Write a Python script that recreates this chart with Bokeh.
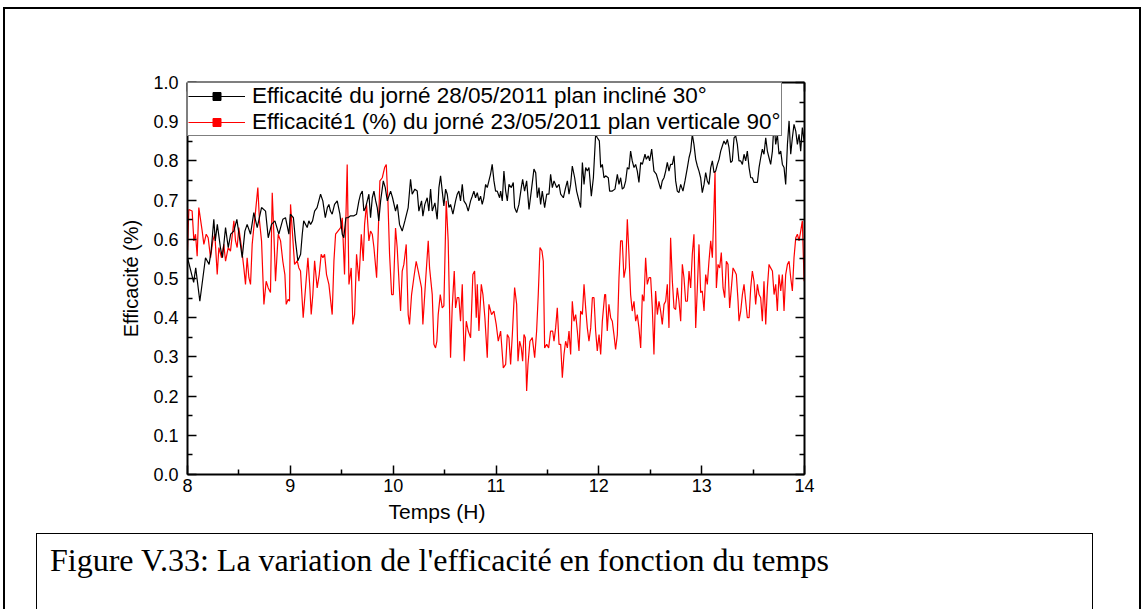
from bokeh.plotting import figure
from bokeh.layouts import column
from bokeh.models import (LinearAxis, Legend, LegendItem, ColumnDataSource, FixedTicker,
                          NumeralTickFormatter, Div)
from bokeh.embed import file_html
from bokeh.resources import INLINE

# ---------------- data ----------------
t_incline = [
    8.000, 8.060, 8.080, 8.120, 8.175, 8.210, 8.230, 8.256, 8.270, 8.290, 8.320, 8.340, 8.370, 8.396,
    8.420, 8.450, 8.480, 8.510, 8.532, 8.558, 8.580, 8.613, 8.645, 8.678, 8.720, 8.759, 8.785, 8.817,
    8.850, 8.888, 8.927, 8.953, 8.986,
    9.000, 9.030, 9.050, 9.073, 9.100, 9.116, 9.130, 9.164, 9.180, 9.197, 9.216, 9.236, 9.260, 9.294,
    9.316, 9.340, 9.360, 9.375, 9.390, 9.407, 9.430, 9.456, 9.482, 9.505, 9.520, 9.540, 9.560, 9.586,
    9.618, 9.644, 9.667, 9.683, 9.700, 9.715, 9.732, 9.764, 9.780, 9.797, 9.813, 9.830, 9.845, 9.860,
    9.878, 9.904, 9.923, 9.943, 9.975, 9.994,
    10.023, 10.040, 10.062, 10.088, 10.114, 10.146, 10.169, 10.185, 10.211, 10.234, 10.250, 10.276,
    10.289, 10.308, 10.331, 10.347, 10.364, 10.380, 10.406, 10.428, 10.445, 10.461, 10.477, 10.493,
    10.510, 10.526, 10.542, 10.558, 10.581, 10.607, 10.623, 10.639, 10.655, 10.672, 10.688, 10.710,
    10.730, 10.753, 10.769, 10.785, 10.801, 10.818, 10.834, 10.850, 10.866, 10.882, 10.899, 10.915,
    10.931, 10.947, 10.963, 10.980, 10.996, 11.012, 11.035,
    11.045, 11.061, 11.077, 11.094, 11.110, 11.126, 11.149, 11.168, 11.181, 11.201, 11.223, 11.246,
    11.259, 11.278, 11.298, 11.321, 11.343, 11.369, 11.386, 11.402, 11.418, 11.434, 11.450, 11.473,
    11.493, 11.515, 11.531, 11.548, 11.564, 11.590, 11.613, 11.629, 11.655, 11.677, 11.694, 11.710,
    11.726, 11.742, 11.765, 11.784, 11.807, 11.823, 11.840, 11.856, 11.872, 11.888, 11.904, 11.927,
    11.947, 11.969, 11.985, 12.005, 12.018, 12.034, 12.050,
    12.066, 12.092, 12.105, 12.131, 12.157, 12.180, 12.196, 12.212, 12.228, 12.244, 12.261, 12.277,
    12.293, 12.309, 12.325, 12.342, 12.358, 12.374, 12.390, 12.407, 12.423, 12.449, 12.462, 12.481,
    12.494, 12.514, 12.536, 12.559, 12.578, 12.601, 12.617, 12.634, 12.650, 12.666, 12.682, 12.698,
    12.715, 12.731, 12.747, 12.763, 12.779, 12.796, 12.818, 12.838, 12.861, 12.877, 12.893, 12.909,
    12.925, 12.942, 12.958, 12.974, 12.990, 13.006, 13.023,
    13.039, 13.055, 13.071, 13.088, 13.104, 13.120, 13.136, 13.153, 13.169, 13.185, 13.201, 13.217,
    13.234, 13.250, 13.266, 13.282, 13.298, 13.315, 13.331, 13.347, 13.363, 13.380, 13.396, 13.412,
    13.428, 13.444, 13.461, 13.477, 13.493, 13.509, 13.525, 13.542, 13.558, 13.574, 13.590, 13.606,
    13.623, 13.639, 13.655, 13.671, 13.688, 13.704, 13.720, 13.736, 13.752, 13.769, 13.785, 13.801,
    13.817, 13.834, 13.850, 13.866, 13.882, 13.898, 13.915, 13.931, 13.947, 13.963, 13.979, 13.996,
]
eff_incline = [
    0.553, 0.490, 0.527, 0.442, 0.553, 0.536, 0.570, 0.651, 0.596, 0.638, 0.579, 0.553, 0.630, 0.579,
    0.613, 0.621, 0.651, 0.596, 0.553, 0.621, 0.638, 0.613, 0.668, 0.630, 0.681, 0.672, 0.604, 0.638,
    0.647, 0.613, 0.651, 0.655, 0.613,
    0.664, 0.655, 0.596, 0.545, 0.562, 0.613, 0.647, 0.630, 0.647, 0.638, 0.647, 0.672, 0.681, 0.715,
    0.698, 0.655, 0.681, 0.689, 0.672, 0.664, 0.689, 0.698, 0.664, 0.613, 0.604, 0.655, 0.655, 0.660,
    0.660, 0.664, 0.698, 0.715, 0.723, 0.672, 0.681, 0.715, 0.655, 0.706, 0.723, 0.698, 0.681, 0.647,
    0.698, 0.749, 0.732, 0.698, 0.723, 0.706,
    0.672, 0.689, 0.638, 0.621, 0.647, 0.681, 0.753, 0.715, 0.728, 0.723, 0.672, 0.698,
    0.659, 0.689, 0.706, 0.672, 0.728, 0.672, 0.693, 0.651, 0.732, 0.762, 0.723, 0.685,
    0.728, 0.715, 0.681, 0.689, 0.664, 0.698, 0.715, 0.723, 0.698, 0.740, 0.698, 0.689,
    0.672, 0.698, 0.710, 0.723, 0.706, 0.719, 0.698, 0.710, 0.689, 0.706, 0.740, 0.732,
    0.749, 0.766, 0.791, 0.749, 0.723, 0.723, 0.706,
    0.723, 0.698, 0.774, 0.723, 0.698, 0.740, 0.732, 0.745, 0.681, 0.668, 0.689, 0.732,
    0.753, 0.723, 0.749, 0.676, 0.723, 0.779, 0.770, 0.706, 0.732, 0.689, 0.723, 0.681,
    0.715, 0.715, 0.766, 0.732, 0.749, 0.732, 0.740, 0.715, 0.706, 0.732, 0.749, 0.715,
    0.740, 0.787, 0.757, 0.723, 0.698, 0.681, 0.796, 0.740, 0.783, 0.774, 0.783, 0.710,
    0.757, 0.868, 0.859, 0.851, 0.783, 0.791, 0.757,
    0.762, 0.757, 0.723, 0.723, 0.728, 0.766, 0.740, 0.757, 0.728, 0.732, 0.749, 0.783,
    0.779, 0.825, 0.800, 0.783, 0.791, 0.774, 0.745, 0.796, 0.791, 0.817, 0.804, 0.813,
    0.800, 0.830, 0.774, 0.766, 0.749, 0.728, 0.749, 0.757, 0.774, 0.796, 0.774, 0.791,
    0.791, 0.813, 0.749, 0.723, 0.719, 0.740, 0.723, 0.749, 0.783, 0.808, 0.825, 0.868,
    0.842, 0.804, 0.787, 0.774, 0.757, 0.719, 0.740,
    0.770, 0.749, 0.740, 0.783, 0.800, 0.770, 0.774, 0.791, 0.804, 0.825, 0.838, 0.851,
    0.842, 0.855, 0.834, 0.796, 0.800, 0.859, 0.864, 0.842, 0.800, 0.800, 0.791, 0.817,
    0.800, 0.825, 0.783, 0.757, 0.757, 0.745, 0.745, 0.745, 0.783, 0.808, 0.830, 0.817,
    0.859, 0.825, 0.808, 0.791, 0.825, 0.900, 0.842, 0.868, 0.817, 0.825, 0.791, 0.783,
    0.740, 0.842, 0.902, 0.817, 0.859, 0.893, 0.876, 0.842, 0.868, 0.825, 0.885, 0.851,
]

t_verticale = [
    8.000, 8.013, 8.045, 8.062, 8.078, 8.094, 8.110, 8.143, 8.159, 8.182, 8.201, 8.224, 8.246, 8.266,
    8.289, 8.305, 8.331, 8.353, 8.370, 8.396, 8.418, 8.451, 8.467, 8.483, 8.499, 8.525, 8.548, 8.564,
    8.580, 8.597, 8.613, 8.629, 8.645, 8.662, 8.684, 8.700, 8.720, 8.743, 8.765, 8.785, 8.807, 8.824,
    8.840, 8.856, 8.882, 8.905, 8.927, 8.947, 8.960, 8.979, 8.992,
    9.002, 9.041, 9.067, 9.083, 9.099, 9.125, 9.148, 9.171, 9.190, 9.203, 9.219, 9.236, 9.261, 9.281,
    9.300, 9.317, 9.333, 9.352, 9.375, 9.407, 9.424, 9.440, 9.463, 9.489, 9.505, 9.527, 9.553, 9.570,
    9.592, 9.608, 9.625, 9.644, 9.667, 9.690, 9.709, 9.722, 9.741, 9.764, 9.780, 9.797, 9.813, 9.839,
    9.852, 9.871, 9.894, 9.917, 9.933, 9.949, 9.965, 9.985, 10.001,
    10.023, 10.039, 10.072, 10.088, 10.104, 10.127, 10.146, 10.159, 10.179, 10.201, 10.224, 10.244,
    10.276, 10.289, 10.315, 10.341, 10.354, 10.380, 10.396, 10.412, 10.425, 10.438, 10.458, 10.477,
    10.493, 10.516, 10.535, 10.558, 10.574, 10.594, 10.607, 10.623, 10.639, 10.655, 10.672, 10.691,
    10.711, 10.730, 10.753, 10.775, 10.792, 10.808, 10.818, 10.834, 10.857, 10.873, 10.892, 10.915,
    10.931, 10.957, 10.980, 11.002, 11.022,
    11.045, 11.071, 11.094, 11.110, 11.126, 11.142, 11.159, 11.181, 11.201, 11.214, 11.230, 11.246,
    11.259, 11.272, 11.285, 11.298, 11.311, 11.330, 11.353, 11.376, 11.395, 11.411, 11.428, 11.447,
    11.460, 11.473, 11.493, 11.512, 11.531, 11.551, 11.564, 11.580, 11.596, 11.613, 11.629, 11.645,
    11.661, 11.677, 11.694, 11.710, 11.726, 11.742, 11.758, 11.775, 11.791, 11.807, 11.823, 11.840,
    11.856, 11.872, 11.888, 11.904, 11.921, 11.937, 11.953, 11.969, 11.985, 12.002, 12.018, 12.034,
    12.057,
    12.066, 12.082, 12.098, 12.115, 12.131, 12.147, 12.163, 12.180, 12.196, 12.212, 12.228, 12.244,
    12.261, 12.277, 12.293, 12.309, 12.325, 12.342, 12.358, 12.374, 12.390, 12.407, 12.423, 12.439,
    12.455, 12.471, 12.488, 12.504, 12.520, 12.536, 12.552, 12.569, 12.585, 12.601, 12.617, 12.634,
    12.650, 12.666, 12.682, 12.698, 12.715, 12.731, 12.747, 12.763, 12.779, 12.796, 12.812, 12.828,
    12.844, 12.861, 12.877, 12.893, 12.909, 12.925, 12.942, 12.958, 12.974, 12.990, 13.006, 13.023,
    13.039, 13.055, 13.071, 13.088, 13.104, 13.120, 13.130,
    13.143, 13.159, 13.175, 13.191, 13.208, 13.224, 13.240, 13.256, 13.272, 13.289, 13.305, 13.321,
    13.337, 13.354, 13.363, 13.380, 13.396, 13.412, 13.428, 13.444, 13.461, 13.477, 13.493, 13.509,
    13.525, 13.542, 13.558, 13.574, 13.590, 13.606, 13.623, 13.639, 13.655, 13.671, 13.688, 13.704,
    13.720, 13.736, 13.752, 13.769, 13.785, 13.801, 13.817, 13.834, 13.850, 13.866, 13.882, 13.898,
    13.915, 13.931, 13.947, 13.963, 13.979, 13.996,
]
eff_verticale = [
    0.570, 0.676, 0.672, 0.596, 0.613, 0.557, 0.681, 0.621, 0.587, 0.613, 0.604, 0.553, 0.596, 0.613,
    0.510, 0.579, 0.553, 0.587, 0.544, 0.579, 0.570, 0.647, 0.596, 0.579, 0.630, 0.579, 0.527, 0.485,
    0.553, 0.502, 0.485, 0.587, 0.630, 0.672, 0.732, 0.647, 0.596, 0.434, 0.493, 0.476, 0.464, 0.719,
    0.613, 0.493, 0.613, 0.596, 0.544, 0.510, 0.434, 0.447, 0.442,
    0.689, 0.536, 0.545, 0.527, 0.519, 0.400, 0.476, 0.553, 0.476, 0.408, 0.459, 0.545, 0.476, 0.510,
    0.562, 0.553, 0.562, 0.510, 0.485, 0.408, 0.545, 0.613, 0.621, 0.630, 0.655, 0.510, 0.791, 0.485,
    0.527, 0.383, 0.408, 0.562, 0.493, 0.613, 0.545, 0.638, 0.689, 0.596, 0.621, 0.613, 0.579, 0.502,
    0.596, 0.749, 0.757, 0.783, 0.791, 0.698, 0.562, 0.459, 0.459,
    0.629, 0.579, 0.417, 0.519, 0.536, 0.587, 0.408, 0.383, 0.459, 0.502, 0.544, 0.519,
    0.476, 0.383, 0.493, 0.596, 0.527, 0.459, 0.332, 0.323, 0.340, 0.408, 0.459, 0.425,
    0.430, 0.698, 0.596, 0.298, 0.425, 0.519, 0.425, 0.451, 0.451, 0.391, 0.485, 0.289,
    0.391, 0.366, 0.349, 0.510, 0.519, 0.400, 0.485, 0.366, 0.485, 0.459, 0.400, 0.298,
    0.434, 0.408, 0.417, 0.383, 0.340,
    0.366, 0.272, 0.281, 0.357, 0.349, 0.281, 0.357, 0.477, 0.434, 0.289, 0.340, 0.323,
    0.289, 0.357, 0.349, 0.213, 0.281, 0.340, 0.349, 0.298, 0.366, 0.459, 0.579, 0.570,
    0.544, 0.323, 0.332, 0.323, 0.366, 0.366, 0.340, 0.374, 0.425, 0.332, 0.332, 0.247,
    0.306, 0.340, 0.323, 0.366, 0.306, 0.442, 0.391, 0.408, 0.366, 0.315, 0.417, 0.408,
    0.485, 0.425, 0.374, 0.340, 0.374, 0.451, 0.451, 0.366, 0.315, 0.357, 0.306, 0.391,
    0.459,
    0.459, 0.366, 0.434, 0.400, 0.391, 0.357, 0.319, 0.357, 0.502, 0.596, 0.596, 0.502,
    0.527, 0.651, 0.562, 0.459, 0.417, 0.442, 0.391, 0.408, 0.374, 0.323, 0.459, 0.442,
    0.553, 0.485, 0.502, 0.502, 0.425, 0.306, 0.468, 0.408, 0.442, 0.417, 0.383, 0.434,
    0.442, 0.485, 0.374, 0.604, 0.493, 0.425, 0.421, 0.476, 0.442, 0.391, 0.536, 0.502,
    0.442, 0.442, 0.519, 0.476, 0.562, 0.613, 0.374, 0.476, 0.587, 0.464, 0.468, 0.417,
    0.510, 0.485, 0.544, 0.596, 0.553, 0.681, 0.774,
    0.476, 0.536, 0.527, 0.566, 0.476, 0.451, 0.544, 0.536, 0.425, 0.476, 0.527, 0.519,
    0.510, 0.442, 0.391, 0.417, 0.459, 0.485, 0.442, 0.400, 0.400, 0.476, 0.519, 0.493,
    0.434, 0.485, 0.459, 0.451, 0.391, 0.493, 0.383, 0.476, 0.536, 0.527, 0.519, 0.459,
    0.485, 0.417, 0.510, 0.468, 0.510, 0.417, 0.510, 0.536, 0.544, 0.502, 0.468, 0.553,
    0.604, 0.613, 0.596, 0.621, 0.647, 0.493,
]

legend_labels = ["Efficacité du jorné 28/05/2011 plan incliné 30°",
                 "Efficacité1 (%) du jorné 23/05/2011 plan verticale 90°"]
x_label = "Temps (H)"
y_label = "Efficacité (%)"
caption = "Figure V.33: La variation de l'efficacité en fonction du temps"

FONT = "Liberation Sans"

# page geometry: the column sits at x=3, y=7 with a 2px border -> content starts at (5, 9)
OX, OY = 5, 9
W = 1134
SPLIT = 500                      # page y where the chart canvas ends
H1 = SPLIT - OY
H2 = 109
LEFT, TOP, FW, FH = 187, 82, 617, 392   # page coords of the plot frame

# ---------------- chart ----------------
p = figure(width=W, height=H1, x_range=(8, 14), y_range=(0, 1),
           output_backend="svg", toolbar_location=None,
           min_border_left=LEFT - OX, min_border_right=W - (LEFT - OX) - FW,
           min_border_top=TOP - OY, min_border_bottom=H1 - (TOP - OY) - FH,
           x_axis_location=None, y_axis_location=None)
p.outline_line_color = None
p.xgrid.visible = False
p.ygrid.visible = False
p.background_fill_color = "white"
p.border_fill_color = "white"


def style_axis(ax, labels=True):
    ax.axis_line_width = 2
    ax.axis_line_color = "black"
    ax.major_tick_in = 9
    ax.major_tick_out = 0
    ax.minor_tick_in = 5
    ax.minor_tick_out = 0
    ax.major_tick_line_width = 1.5
    ax.minor_tick_line_width = 1.5
    ax.major_tick_line_color = "black"
    ax.minor_tick_line_color = "black"
    ax.major_label_text_font = FONT
    ax.major_label_text_font_size = "18px"
    ax.major_label_text_color = "black"
    ax.major_label_standoff = 9
    if not labels:
        ax.major_label_text_alpha = 0
        ax.major_label_text_font_size = "1px"


xt = FixedTicker(ticks=[8, 9, 10, 11, 12, 13, 14], minor_ticks=[8.5, 9.5, 10.5, 11.5, 12.5, 13.5])
yt = FixedTicker(ticks=[round(0.1 * i, 1) for i in range(11)],
                 minor_ticks=[round(0.05 + 0.1 * i, 2) for i in range(10)])

bx = LinearAxis(ticker=xt)
style_axis(bx)
bx.major_label_standoff = 4
p.add_layout(bx, "below")
tx = LinearAxis(ticker=xt)
style_axis(tx, labels=False)
p.add_layout(tx, "above")
ly = LinearAxis(ticker=yt, axis_label=y_label, formatter=NumeralTickFormatter(format="0.0"))
style_axis(ly)
ly.axis_label_text_font = FONT
ly.axis_label_text_font_size = "20px"
ly.axis_label_text_font_style = "normal"
ly.axis_label_text_color = "black"
ly.axis_label_standoff = 8
p.add_layout(ly, "left")
ry = LinearAxis(ticker=yt)
style_axis(ry, labels=False)
p.add_layout(ry, "right")

src_b = ColumnDataSource(dict(t=t_incline, e=eff_incline))
src_r = ColumnDataSource(dict(t=t_verticale, e=eff_verticale))
lr = p.line("t", "e", source=src_r, line_color="#ff0000", line_width=1.2)
lb = p.line("t", "e", source=src_b, line_color="#000000", line_width=1.2)
# marker renderers used only for the legend symbol (points lie outside the visible range)
mb = p.scatter(x=[-100], y=[-100], marker="square", size=4, fill_color="black", line_color="black")
mr = p.scatter(x=[-100], y=[-100], marker="square", size=4, fill_color="#ff0000", line_color="#ff0000")

legend = Legend(items=[LegendItem(label=legend_labels[0], renderers=[lb, mb]),
                       LegendItem(label=legend_labels[1], renderers=[lr, mr])],
                location="top_left", margin=0, padding=0, spacing=0,
                label_height=20, glyph_height=20, glyph_width=57, label_standoff=7,
                label_text_font=FONT, label_text_font_size="22.5px", label_text_color="black",
                label_text_line_height=1.0,
                border_line_color="black", border_line_width=1.5,
                background_fill_alpha=1.0)
p.add_layout(legend, "center")

# ---------------- lower strip: x-axis title + caption box ----------------
def rel(x, y):
    return x - OX, y - SPLIT


tx_, ty_ = rel(437, 511)
bl, bt = rel(36, 533)
cx, ctop = rel(50, 544)
strip_html = (
    f'<div style="position:relative;width:{W}px;height:{H2}px;overflow:hidden;">'
    f'<div style="position:absolute;left:{tx_}px;top:{ty_}px;transform:translate(-50%,-50%);'
    f'font-family:\'{FONT}\';font-size:21px;line-height:21px;color:black;white-space:nowrap;">'
    f'{x_label}</div>'
    f'<div style="position:absolute;left:{bl}px;top:{bt}px;width:{1093 - 36}px;height:{H2 + 20}px;'
    f'border:1.5px solid black;box-sizing:border-box;"></div>'
    f'<div style="position:absolute;left:{cx}px;top:{ctop}px;font-family:\'Liberation Serif\';'
    f'font-size:32px;line-height:32px;color:black;white-space:nowrap;">{caption}</div>'
    f'</div>'
)
strip = Div(text=strip_html, width=W, height=H2, margin=0)

layout = column(p, strip, spacing=0,
                styles={"margin-left": "3px", "margin-top": "7px",
                        "border-left": "2px solid black", "border-top": "2px solid black",
                        "border-right": "2px solid black"})

open("out.html", "w").write(file_html(layout, INLINE))
